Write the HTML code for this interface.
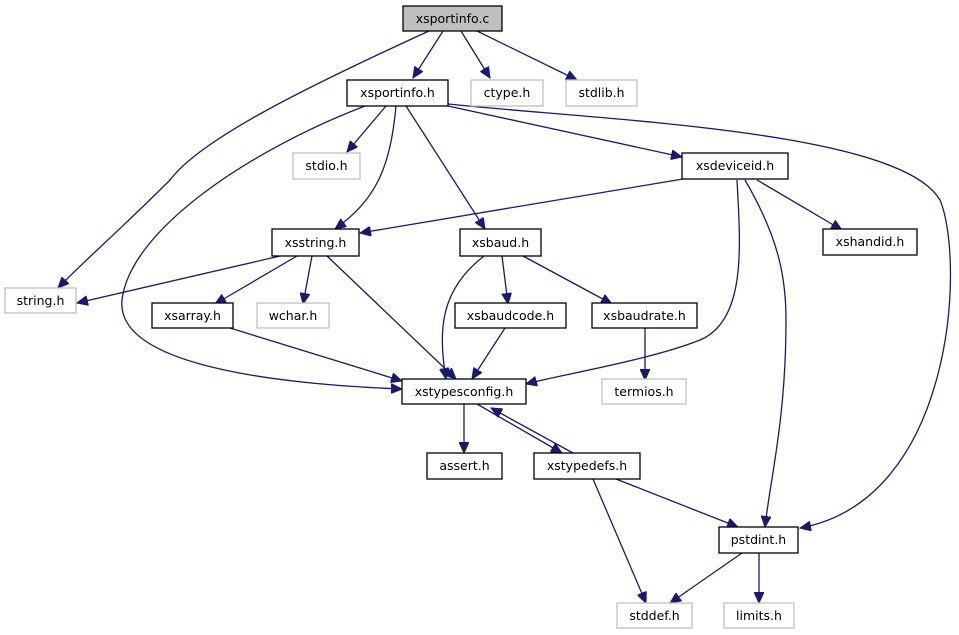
<!DOCTYPE html>
<html><head><meta charset="utf-8"><style>
html,body{margin:0;padding:0;background:#fff;}
svg{display:block;}
text{font-family:"DejaVu Sans","Liberation Sans",sans-serif;font-size:12.5px;fill:#000;}
</style></head><body>
<svg width="959" height="635" viewBox="0 0 959 635" xmlns="http://www.w3.org/2000/svg">
<defs>
<marker id="a" markerUnits="userSpaceOnUse" markerWidth="12" markerHeight="10" refX="11" refY="5" orient="auto">
<polygon points="0,0 11,5 0,10" fill="#191970" stroke="#191970"/>
</marker>
</defs>
<g fill="none" stroke="#191970" stroke-width="1.3" marker-end="url(#a)">
<path d="M443,31 L413,78"/>
<path d="M461,31 L490,78"/>
<path d="M477,31 L577,80"/>
<path d="M429,31 C300,90 200,140 170,180 C120,230 85,260 58,288"/>
<path d="M386,106 L347,152"/>
<path d="M396,106 C390,170 375,200 335,229"/>
<path d="M406,106 L485,229"/>
<path d="M448,106 L682,157"/>
<path d="M448,104 C600,120 900,130 940,200 C965,260 955,500 800,528"/>
<path d="M365,106 C250,150 130,230 122,300 C115,370 300,385 402,389"/>
<path d="M683,179 L360,233"/>
<path d="M757,180 L842,230"/>
<path d="M745,180 C780,240 786,280 786,320 C786,420 770,480 765,527"/>
<path d="M737,180 C740,240 748,320 700,340 C650,360 560,375 526,384"/>
<path d="M280,256 L77,303"/>
<path d="M297,256 L215,304"/>
<path d="M312,256 L303,304"/>
<path d="M327,256 L456,379"/>
<path d="M484,256 C440,290 438,330 446,379"/>
<path d="M502,256 L508,304"/>
<path d="M523,256 L612,304"/>
<path d="M230,328 L402,381"/>
<path d="M505,328 L472,379"/>
<path d="M645,328 L645,380"/>
<path d="M464,404 L464,453"/>
<path d="M477,404 L562,453"/>
<path d="M573,453 L491,408"/>
<path d="M616,479 L738,527"/>
<path d="M593,479 L646,603"/>
<path d="M742,553 L670,603"/>
<path d="M759,553 L759,603"/>
</g>
<g stroke-width="1.3">
<rect x="403" y="6" width="99" height="25" fill="#bfbfbf" stroke="#000"/>
<rect x="347" y="80" width="101" height="26" fill="#fff" stroke="#000"/>
<rect x="471" y="80" width="72" height="26" fill="#fff" stroke="#bfbfbf"/>
<rect x="566" y="80" width="71" height="26" fill="#fff" stroke="#bfbfbf"/>
<rect x="293" y="153" width="67" height="26" fill="#fff" stroke="#bfbfbf"/>
<rect x="682" y="153" width="106" height="26" fill="#fff" stroke="#000"/>
<rect x="272" y="229" width="87" height="27" fill="#fff" stroke="#000"/>
<rect x="460" y="229" width="81" height="27" fill="#fff" stroke="#000"/>
<rect x="823" y="229" width="94" height="26" fill="#fff" stroke="#000"/>
<rect x="5" y="288" width="71" height="25" fill="#fff" stroke="#bfbfbf"/>
<rect x="152" y="303" width="81" height="25" fill="#fff" stroke="#000"/>
<rect x="257" y="303" width="72" height="25" fill="#fff" stroke="#bfbfbf"/>
<rect x="455" y="303" width="111" height="25" fill="#fff" stroke="#000"/>
<rect x="592" y="303" width="105" height="25" fill="#fff" stroke="#000"/>
<rect x="402" y="379" width="124" height="25" fill="#fff" stroke="#000"/>
<rect x="602" y="379" width="84" height="25" fill="#fff" stroke="#bfbfbf"/>
<rect x="427" y="453" width="75" height="26" fill="#fff" stroke="#000"/>
<rect x="534" y="453" width="106" height="26" fill="#fff" stroke="#000"/>
<rect x="719" y="527" width="79" height="26" fill="#fff" stroke="#000"/>
<rect x="617" y="603" width="75" height="25" fill="#fff" stroke="#bfbfbf"/>
<rect x="724" y="603" width="70" height="25" fill="#fff" stroke="#bfbfbf"/>
</g>
<g text-anchor="middle">
<text x="452.5" y="23">xsportinfo.c</text>
<text x="397.5" y="97">xsportinfo.h</text>
<text x="507" y="97">ctype.h</text>
<text x="601.5" y="97">stdlib.h</text>
<text x="326.5" y="170">stdio.h</text>
<text x="735" y="170">xsdeviceid.h</text>
<text x="315.5" y="247">xsstring.h</text>
<text x="500.5" y="247">xsbaud.h</text>
<text x="870" y="246">xshandid.h</text>
<text x="40.5" y="305">string.h</text>
<text x="192.5" y="320">xsarray.h</text>
<text x="293" y="320">wchar.h</text>
<text x="510.5" y="320">xsbaudcode.h</text>
<text x="644.5" y="320">xsbaudrate.h</text>
<text x="464" y="396">xstypesconfig.h</text>
<text x="644" y="396">termios.h</text>
<text x="464.5" y="470">assert.h</text>
<text x="587" y="470">xstypedefs.h</text>
<text x="758.5" y="544">pstdint.h</text>
<text x="654.5" y="620">stddef.h</text>
<text x="759" y="620">limits.h</text>
</g>
</svg>
</body></html>
